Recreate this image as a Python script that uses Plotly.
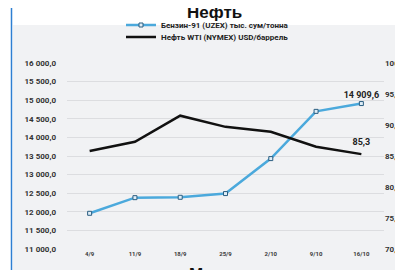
import plotly.graph_objects as go

dates = ["4/9", "11/9", "18/9", "25/9", "2/10", "9/10", "16/10"]
benzin = [11960, 12380, 12390, 12490, 13430, 14700, 14909.6]
wti = [85.8, 87.3, 91.5, 89.7, 88.9, 86.5, 85.3]
benzin_name = "Бензин-91 (UZEX) тыс. сум/тонна"
wti_name = "Нефть WTI (NYMEX) USD/баррель"
title_text = "Нефть"
next_title = "Мазут"

W, H = 403, 270
L, R, T, B = 59, 27, 55, 29
pw, ph = W - L - R, H - T - B

def px(x):
    return (x - L) / pw

def py(y):
    return (H - B - y) / ph

blue = "#4ba9dc"
bold_font = dict(family="Roboto", size=8, color="#333333", weight="bold")

fig = go.Figure()
fig.add_trace(go.Scatter(
    x=dates, y=benzin, name=benzin_name, yaxis="y",
    mode="lines+markers+text",
    line=dict(color=blue, width=2.5),
    marker=dict(symbol="square", size=4, color="#dfeef8", line=dict(color="#2a5d80", width=1)),
    text=[""] * (len(benzin) - 1) + ["14 909,6"],
    textposition="top center",
    textfont=dict(family="Roboto", size=9, color="#222", weight="bold"),
    legend="legend", cliponaxis=False,
))
fig.add_trace(go.Scatter(
    x=dates, y=wti, name=wti_name, yaxis="y2",
    mode="lines+markers+text",
    line=dict(color="#111111", width=2.5),
    marker=dict(size=9, color="rgba(0,0,0,0)"),
    text=[""] * (len(wti) - 1) + ["85,3"],
    textposition="top center",
    textfont=dict(family="Roboto", size=9, color="#222", weight="bold"),
    legend="legend2", cliponaxis=False,
))

bg = "#f1f2f4"
fig.update_layout(
    width=W, height=H,
    margin=dict(l=L, r=R, t=T, b=B, autoexpand=False),
    paper_bgcolor="white", plot_bgcolor=bg,
    separators=", ",
    showlegend=True,
    xaxis=dict(type="category", range=[-0.5, 6.5], showgrid=False, showline=False,
               zeroline=False, ticks="", ticklen=0,
               tickfont=dict(family="Roboto", size=6, color="#3a3a3a", weight="bold")),
    yaxis=dict(range=[11000, 16000], dtick=500, tick0=11000, tickformat=",.1f",
               showgrid=True, gridcolor="#dcdde0", gridwidth=1, zeroline=False,
               showline=False, ticks="", ticklen=0, ticklabelstandoff=10,
               tickfont=bold_font),
    yaxis2=dict(range=[70, 100], dtick=5, tick0=70, tickformat=".1f", overlaying="y",
                side="right", showgrid=False, zeroline=False, showline=False, ticks="",
                ticklen=0, ticklabelstandoff=0,
                tickfont=bold_font),
    legend=dict(x=px(113), xanchor="left", y=py(17), yanchor="middle",
                bgcolor="rgba(0,0,0,0)", font=dict(family="Roboto", size=8, color="#222", weight="bold")),
    legend2=dict(x=px(113), xanchor="left", y=py(29), yanchor="middle",
                 bgcolor="rgba(0,0,0,0)", font=dict(family="Roboto", size=8, color="#222", weight="bold")),
    shapes=[
        dict(type="rect", xref="paper", yref="paper", x0=px(5), x1=px(403), y0=py(263), y1=py(17),
             fillcolor=bg, line=dict(width=0), layer="below"),
        dict(type="line", xref="paper", yref="paper", x0=px(3.5), x1=px(3.5), y0=py(270), y1=py(0),
             line=dict(color="#2e7fd2", width=1.5)),
    ],
    annotations=[
        dict(text=title_text, xref="paper", yref="paper", x=px(206), y=py(4.5), xanchor="center",
             yanchor="middle", showarrow=False,
             font=dict(family="Liberation Sans", size=17, color="#111", weight="bold")),
        dict(text=next_title, xref="paper", yref="paper", x=px(206), y=py(255), xanchor="center",
             yanchor="top", showarrow=False,
             font=dict(family="Liberation Sans", size=17, color="#111", weight="bold")),
    ],
)

fig.write_html("out.html")
